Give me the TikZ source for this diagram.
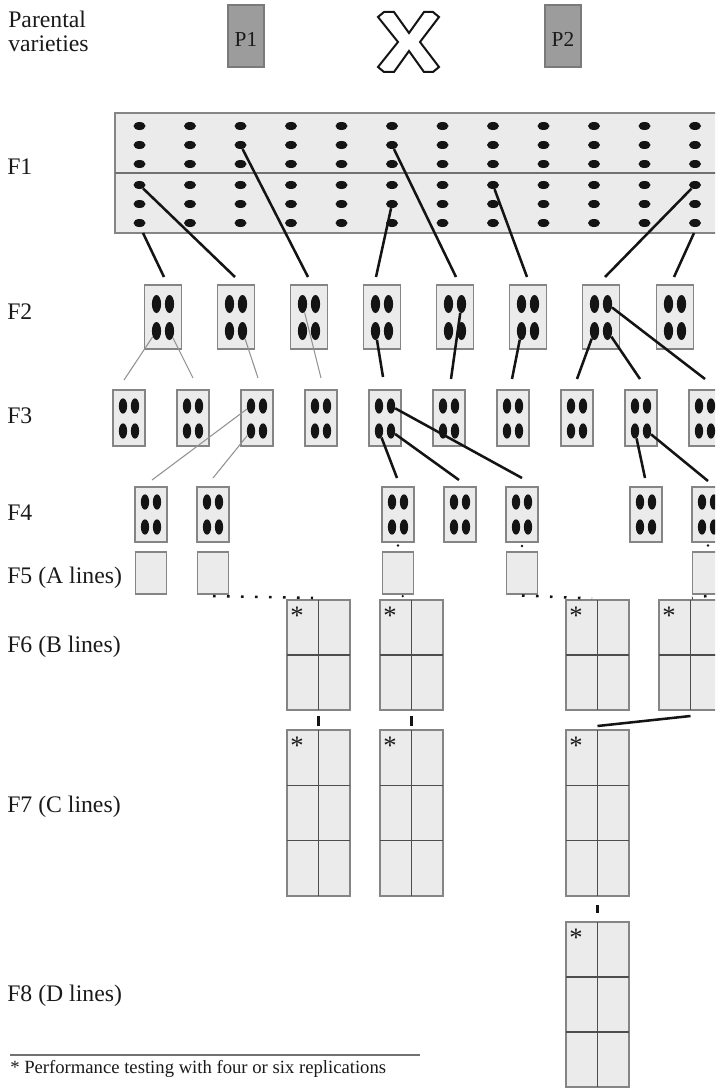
\documentclass[tikz,border=0pt]{standalone}
\usepackage{fontspec}
\setmainfont{Liberation Serif}
\usetikzlibrary{calc,shapes.geometric}
\definecolor{boxfill}{HTML}{EBEBEB}
\definecolor{boxline}{HTML}{858585}
\definecolor{pfill}{HTML}{9C9C9C}
\definecolor{pline}{HTML}{7A7A7A}
\definecolor{divcol}{HTML}{4D4D4D}
\definecolor{thingray}{HTML}{929292}
\definecolor{txt}{HTML}{1A1A1A}
\definecolor{seed}{HTML}{141414}
\begin{document}
\begin{tikzpicture}[x=0.75pt,y=-0.75pt,
  box/.style={draw=boxline, fill=boxfill, line width=1.1pt, inner sep=0pt, outer sep=0pt},
  pbox/.style={draw=pline, fill=pfill, line width=1pt, inner sep=0pt, minimum width=27pt, minimum height=46.5pt},
  ptext/.style={inner sep=0pt, font=\fontsize{16}{16}\selectfont, text=txt},
  fdot/.style={ellipse, fill=seed, inner sep=0pt, minimum width=9pt, minimum height=6pt},
  seedB/.style={ellipse, fill=seed, inner sep=0pt, minimum width=6.9pt, minimum height=13.5pt},
  seedC/.style={ellipse, fill=seed, inner sep=0pt, minimum width=6.2pt, minimum height=11.5pt},
  thickc/.style={line width=1.9pt, draw=seed},
  thinc/.style={line width=0.8pt, draw=thingray},
  tickc/.style={line width=2.2pt, draw=seed},
  divider/.style={line width=0.8pt, draw=divcol},
  midline/.style={line width=0.9pt, draw=divcol!80},
  lab/.style={anchor=base west, inner sep=0pt, font=\fontsize{17.8}{21}\selectfont, text=txt},
  foot/.style={anchor=base west, inner sep=0pt, font=\fontsize{14}{16}\selectfont, text=txt},
  star/.style={inner sep=0pt, anchor=base, font=\fontsize{20}{20}\selectfont, text=txt},
  dotrow/.style={line width=1.9pt, draw=seed, dash pattern=on 1.9pt off 8.6pt},
  pdot/.style={fill=seed},
  cross/.style={draw=seed, fill=white, line width=1.5pt, line join=miter}
]
\useasboundingbox (0,0) rectangle (715,1088);
\clip (0,0) rectangle (715,1088);

% ---------- left labels ----------
\node[lab] (l-par1) at (8,28) {Parental};
\node[lab] (l-par2) at (8,52) {varieties};
\node[lab] (l-f1) at (7,174) {F1};
\node[lab] (l-f2) at (7,319) {F2};
\node[lab] (l-f3) at (7,423) {F3};
\node[lab] (l-f4) at (7,520) {F4};
\node[lab] (l-f5) at (7,583) {F5 (A lines)};
\node[lab] (l-f6) at (7,652) {F6 (B lines)};
\node[lab] (l-f7) at (7,812) {F7 (C lines)};
\node[lab] (l-f8) at (7,1001) {F8 (D lines)};

% ---------- parents ----------
\node[pbox] (p1) at (246,36) {};
\node[ptext] (p1t) at (246,39.5) {P1};
\node[pbox] (p2) at (563,36) {};
\node[ptext] (p2t) at (563,39.5) {P2};
\draw[cross] (378,17) -- (384,12) -- (394,12) -- (409,33) -- (424,12) -- (433,12) -- (439,17)
  -- (420,42) -- (439,67) -- (433,72) -- (424,72) -- (409,51) -- (394,72) -- (384,72)
  -- (378,67) -- (398,42) -- cycle;

% ---------- F1 ----------
\node[box, minimum width=465pt, minimum height=90pt] (f1box) at (425,173) {};
\draw[midline] (f1box.west) -- (f1box.east);
\foreach \c in {1,...,12}{
  \foreach \r/\yy in {1/126,2/145,3/164,4/185,5/204,6/223}{
    \node[fdot] (d-\c-\r) at ({139.5+50.5*(\c-1)},\yy) {};
  }
}

% ---------- F2 ----------
\foreach \i/\xx in {1/163,2/236,3/309,4/382,5/455,6/528,7/601,8/675}{
  \node[box, minimum width=27.75pt, minimum height=48pt] (b2-\i) at (\xx,317) {};
  \node[seedB] (s2-\i-tl) at (\xx-6.5,304) {};
  \node[seedB] (s2-\i-tr) at (\xx+6.5,304) {};
  \node[seedB] (s2-\i-bl) at (\xx-6.5,331) {};
  \node[seedB] (s2-\i-br) at (\xx+6.5,331) {};
}

% ---------- F3 ----------
\foreach \i/\xx in {1/129,2/193,3/257,4/321,5/385,6/449,7/513,8/577,9/641,10/705}{
  \node[box, minimum width=24pt, minimum height=42pt] (b3-\i) at (\xx,418) {};
  \node[seedC] (s3-\i-tl) at (\xx-6,406) {};
  \node[seedC] (s3-\i-tr) at (\xx+6,406) {};
  \node[seedC] (s3-\i-bl) at (\xx-6,431) {};
  \node[seedC] (s3-\i-br) at (\xx+6,431) {};
}

% ---------- F4 ----------
\foreach \i/\xx in {1/151,2/213,3/398,4/460,5/522,6/646,7/708}{
  \node[box, minimum width=24pt, minimum height=41.25pt] (b4-\i) at (\xx,514.5) {};
  \node[seedC] (s4-\i-tl) at (\xx-6,502) {};
  \node[seedC] (s4-\i-tr) at (\xx+6,502) {};
  \node[seedC] (s4-\i-bl) at (\xx-6,527) {};
  \node[seedC] (s4-\i-br) at (\xx+6,527) {};
}

% ---------- F5 ----------
\foreach \i/\xx in {1/151,2/213,3/398,4/522,5/708}{
  \node[box, minimum width=23.25pt, minimum height=31.5pt] (b5-\i) at (\xx,573) {};
}

% ---------- F6 ----------
\foreach \i/\xx in {1/318.5,2/411.5,3/597.5,4/690.5}{
  \node[box, minimum width=47.25pt, minimum height=82.5pt] (b6-\i) at (\xx,655) {};
  \draw[divider] (b6-\i.north) -- (b6-\i.south);
  \draw[divider] (b6-\i.west) -- (b6-\i.east);
  \node[star] (a6-\i) at ($(b6-\i.north west)+(10,24)$) {*};
}

% ---------- F7 ----------
\foreach \i/\xx in {1/318.5,2/411.5,3/597.5}{
  \node[box, minimum width=47.25pt, minimum height=124.5pt] (b7-\i) at (\xx,813) {};
  \draw[divider] (b7-\i.north) -- (b7-\i.south);
  \draw[divider] ($(b7-\i.north west)!1/3!(b7-\i.south west)$) -- ($(b7-\i.north east)!1/3!(b7-\i.south east)$);
  \draw[divider] ($(b7-\i.north west)!2/3!(b7-\i.south west)$) -- ($(b7-\i.north east)!2/3!(b7-\i.south east)$);
  \node[star] (a7-\i) at ($(b7-\i.north west)+(10,24)$) {*};
}

% ---------- F8 ----------
\node[box, minimum width=47.25pt, minimum height=123.75pt] (b8-1) at (597.5,1004.5) {};
\draw[divider] (b8-1.north) -- (b8-1.south);
\draw[divider] ($(b8-1.north west)!1/3!(b8-1.south west)$) -- ($(b8-1.north east)!1/3!(b8-1.south east)$);
\draw[divider] ($(b8-1.north west)!2/3!(b8-1.south west)$) -- ($(b8-1.north east)!2/3!(b8-1.south east)$);
\node[star] (a8-1) at ($(b8-1.north west)+(10,24)$) {*};

% ---------- connectors F1 -> F2 ----------
\draw[thickc] ($(f1box.south west)+(28,0)$) -- ($(b2-1.north)+(1,-8)$);
\draw[thickc] (d-1-4) -- ($(b2-2.north)+(-1,-8)$);
\draw[thickc] (d-3-2) -- ($(b2-3.north)+(-1,-8)$);
\draw[thickc] (d-6-5) -- ($(b2-4.north)+(-6,-8)$);
\draw[thickc] (d-6-2) -- ($(b2-5.north)+(1,-8)$);
\draw[thickc] (d-8-4) -- ($(b2-6.north)+(-1,-8)$);
\draw[thickc] (d-12-4) -- ($(b2-7.north)+(4,-8)$);
\draw[thickc] ($(f1box.south west)+(579,0)$) -- ($(b2-8.north)+(-1,-8)$);

% ---------- connectors F2 -> F3 ----------
\draw[thinc] (s2-1-bl) -- ($(b3-1.north)+(-5,-10)$);
\draw[thinc] (s2-1-br) -- ($(b3-2.north)+(0,-12)$);
\draw[thinc] (s2-2-br) -- ($(b3-3.north)+(1,-12)$);
\draw[thinc] (s2-3-tl) -- ($(b3-4.north)+(0,-12)$);
\draw[thickc] (s2-4-bl) -- ($(b3-5.north)+(-2,-13)$);
\draw[thickc] (s2-5-tr) -- ($(b3-6.north)+(2,-11)$);
\draw[thickc] (s2-6-bl) -- ($(b3-7.north)+(-1,-11)$);
\draw[thickc] (s2-7-bl) -- ($(b3-8.north)+(0,-11)$);
\draw[thickc] (s2-7-br) -- ($(b3-9.north)+(-1,-11)$);
\draw[thickc] (s2-7-tr) -- ($(b3-10.north)+(0,-11)$);

% ---------- connectors F3 -> F4 ----------
\draw[thinc] (s3-3-tl) -- ($(b4-1.north)+(1,-7)$);
\draw[thinc] (s3-3-bl) -- ($(b4-2.north)+(0,-9)$);
\draw[thickc] (s3-5-bl) -- ($(b4-3.north)+(-1,-9)$);
\draw[thickc] (s3-5-br) -- ($(b4-4.north)+(-1,-7)$);
\draw[thickc] (s3-5-tr) -- ($(b4-5.north)+(0,-9)$);
\draw[thickc] (s3-9-bl) -- ($(b4-6.north)+(-1,-9)$);
\draw[thickc] (s3-9-br) -- ($(b4-7.north)+(0,-6)$);

% ---------- F4 -> F5 and F5 -> F6 dotted links ----------
\fill[pdot] ($(b4-3.south)!0.35!(b5-3.north)$) circle (1pt);
\fill[pdot] ($(b4-5.south)!0.4!(b5-4.north)$) circle (1pt);
\fill[pdot] ($(b4-7.south)!0.35!(b5-5.north)$) circle (1pt);
\fill[pdot] ($(b5-3.south)!0.35!(b6-2.north)$) circle (1pt);
\draw[dotrow] ($(b5-2.south)+(0,2)$) -- ($(b6-1.north west)+(26,-2)$);
\draw[dotrow] ($(b5-4.south)+(0,1.5)$) -- ($(b6-3.north west)+(26,-1.5)$);
\draw[dotrow] ($(b5-5.south)+(-1.5,2)$) -- ($(b6-4.north)+(1.5,-2)$);

% ---------- F6 -> F7 -> F8 ----------
\draw[tickc, shorten <=4.5pt, shorten >=3pt] (b6-1.south) -- (b7-1.north);
\draw[tickc, shorten <=4.5pt, shorten >=3pt] (b6-2.south) -- (b7-2.north);
\draw[thickc] ($(b6-4.south)+(0,6)$) -- ($(b7-3.north)+(0,-4)$);
\draw[tickc, shorten <=6.75pt, shorten >=6.75pt] (b7-3.south) -- (b8-1.north);

% ---------- footnote ----------
\coordinate (fl-a) at (10,1055);
\coordinate (fl-b) at (420,1055);
\draw[line width=0.8pt, draw=divcol!80] (fl-a) -- (fl-b);
\node[foot] (fn) at (10,1073) {* Performance testing with four or six replications};
\end{tikzpicture}
\end{document}
